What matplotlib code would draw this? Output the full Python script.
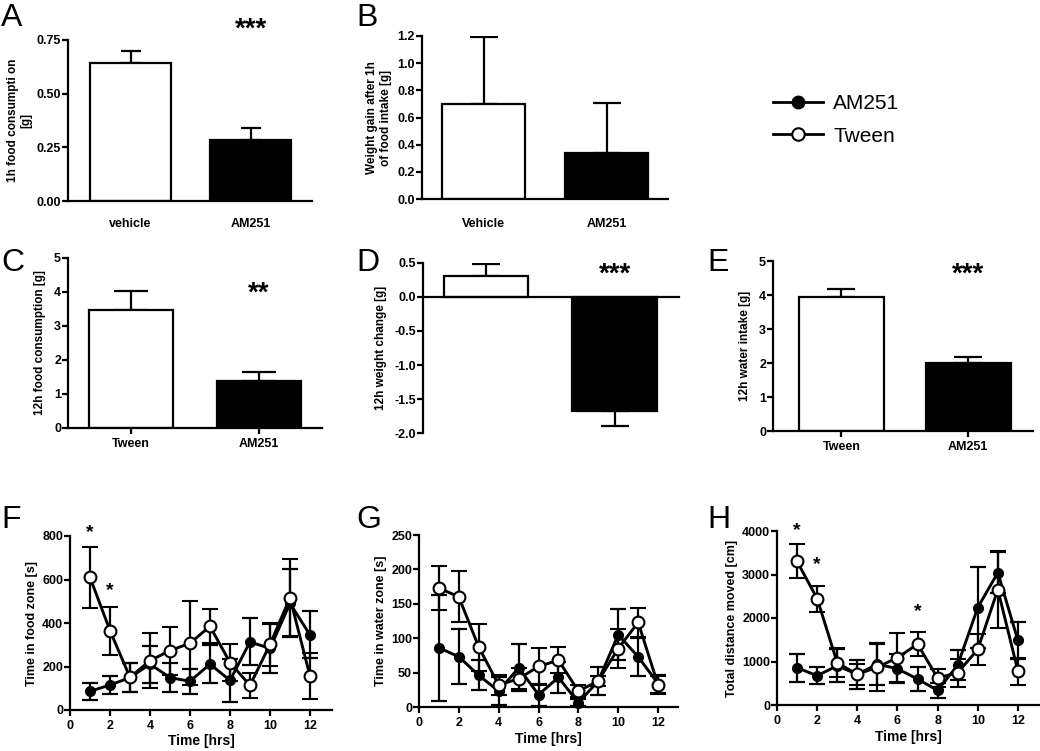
import matplotlib
matplotlib.use("Agg")
import matplotlib.pyplot as plt
from matplotlib.lines import Line2D
import numpy as np

plt.rcParams['font.family'] = ['Liberation Sans', 'DejaVu Sans']
plt.rcParams['font.weight'] = 'bold'
plt.rcParams['axes.labelweight'] = 'bold'
plt.rcParams['axes.unicode_minus'] = False

# ---------------- data ----------------
a_labels = ["vehicle", "AM251"]
a_vals = [0.645, 0.285]
a_err = [0.055, 0.053]

b_labels = ["Vehicle", "AM251"]
b_vals = [0.70, 0.34]
b_err = [0.49, 0.37]

c_labels = ["Tween", "AM251"]
c_vals = [3.46, 1.37]
c_err = [0.56, 0.27]

d_vals = [0.31, -1.67]
d_err = [0.17, 0.22]

e_labels = ["Tween", "AM251"]
e_vals = [3.93, 2.00]
e_err = [0.26, 0.17]

hours = list(range(1, 13))
f_tween = [610, 365, 150, 227, 273, 307, 385, 218, 113, 302, 516, 156]
f_tween_sem = [140, 110, 65, 125, 110, 193, 78, 85, 56, 100, 177, 105]
f_am = [86, 115, 149, 211, 149, 132, 211, 136, 313, 283, 490, 345]
f_am_sem = [40, 41, 65, 85, 67, 57, 88, 98, 108, 114, 156, 108]

g_tween = [173, 160, 87, 32, 41, 59, 68, 23, 38, 85, 123, 32]
g_tween_sem = [32, 37, 34, 15, 15, 27, 19, 9, 7, 28, 21, 13]
g_am = [86, 73, 46, 23, 57, 18, 43, 6, 38, 105, 73, 34]
g_am_sem = [77, 40, 22, 20, 34, 16, 23, 5, 20, 37, 28, 13]

h_tween = [3300, 2447, 971, 704, 872, 1086, 1400, 620, 742, 1277, 2654, 780]
h_tween_sem = [390, 300, 330, 250, 540, 560, 280, 200, 320, 350, 880, 310]
h_am = [857, 673, 903, 704, 940, 834, 597, 336, 918, 2241, 3044, 1484]
h_am_sem = [320, 195, 380, 340, 480, 330, 280, 180, 350, 920, 470, 420]

f_stars = [(1, 815), (2, 550)]
h_stars = [(1, 4000), (2, 3220), (7, 2140)]

# ---------------- layout ----------------
W, H = 1040, 751
fig = plt.figure(figsize=(W / 100, H / 100), dpi=100)


def add_ax(x0, y0, x1, y1):
    return fig.add_axes([x0 / W, 1 - y1 / H, (x1 - x0) / W, (y1 - y0) / H])


LW = 1.6
TICKFS = 9


def style(ax, xticks=True):
    for s in ['top', 'right']:
        ax.spines[s].set_visible(False)
    for s in ['left', 'bottom']:
        ax.spines[s].set_linewidth(LW)
    ax.tick_params(axis='y', direction='out', length=4, width=LW, labelsize=TICKFS, pad=1)
    ax.tick_params(axis='x', direction='out', length=4 if xticks else 0, width=LW,
                   labelsize=TICKFS, pad=3)


def bar_panel(ax, vals, errs, width, capsize, labels=None):
    x = np.arange(len(vals))
    colors = ['white', 'black']
    ax.bar(x, vals, width=width, color=colors, edgecolor='black', linewidth=LW, zorder=2)
    lower = [e if v < 0 else 0 for v, e in zip(vals, errs)]
    upper = [e if v >= 0 else 0 for v, e in zip(vals, errs)]
    ax.errorbar(x, vals, yerr=[lower, upper], fmt='none', ecolor='black',
                elinewidth=LW, capsize=capsize, capthick=LW, zorder=1)
    ax.set_xticks(x)
    if labels is not None:
        ax.set_xticklabels(labels)
    else:
        ax.set_xticklabels([])


def stars(ax, x, y, s, fs=20):
    ax.text(x, y, s, ha='center', va='center', fontsize=fs, fontweight='bold',
            clip_on=False, transform=ax.transData)


YLFS = 8.5

# Panel A
axA = add_ax(68, 40, 312, 201)
bar_panel(axA, a_vals, a_err, 0.675, 7, a_labels)
axA.set_xlim(-0.52, 1.51)
axA.set_ylim(0, 0.75)
axA.set_yticks([0, 0.25, 0.5, 0.75])
axA.set_yticklabels(["0.00", "0.25", "0.50", "0.75"])
axA.set_ylabel("1h food consumpti on\n[g]", fontsize=YLFS, labelpad=3)
style(axA, xticks=False)
axA.tick_params(axis='x', pad=12)
stars(axA, 1, 0.80, "***")

# Panel B
axB = add_ax(422, 36, 668, 199)
bar_panel(axB, b_vals, b_err, 0.667, 10, b_labels)
axB.set_xlim(-0.50, 1.50)
axB.set_ylim(0, 1.2)
axB.set_yticks(np.arange(0, 1.21, 0.2))
axB.set_yticklabels([f"{v:.1f}" for v in np.arange(0, 1.21, 0.2)])
axB.set_ylabel("Weight gain after 1h\nof food intake [g]", fontsize=YLFS, labelpad=4)
style(axB, xticks=False)
axB.tick_params(axis='x', pad=14)

# Panel C
axC = add_ax(68, 258, 322, 428)
bar_panel(axC, c_vals, c_err, 0.66, 12, c_labels)
axC.set_xlim(-0.49, 1.49)
axC.set_ylim(0, 5)
axC.set_yticks(range(0, 6))
axC.set_ylabel("12h food consumption [g]", fontsize=YLFS, labelpad=6)
style(axC)
stars(axC, 1, 3.95, "**")

# Panel D
axD = add_ax(423, 263, 679, 433)
bar_panel(axD, d_vals, d_err, 0.66, 10, None)
axD.set_xlim(-0.49, 1.50)
axD.set_ylim(-2.0, 0.5)
axD.set_yticks([0.5, 0.0, -0.5, -1.0, -1.5, -2.0])
axD.set_yticklabels(["0.5", "0.0", "-0.5", "-1.0", "-1.5", "-2.0"])
axD.spines['bottom'].set_position(('data', 0))
axD.set_ylabel("12h weight change [g]", fontsize=YLFS, labelpad=5)
style(axD, xticks=False)
stars(axD, 1, 0.33, "***")

# Panel E
axE = add_ax(773, 261, 1033, 431)
bar_panel(axE, e_vals, e_err, 0.67, 10, e_labels)
axE.set_xlim(-0.54, 1.51)
axE.set_ylim(0, 5)
axE.set_yticks(range(0, 6))
axE.set_ylabel("12h water intake [g]", fontsize=YLFS, labelpad=6)
style(axE)
stars(axE, 1, 4.6, "***")


def line_panel(ax, tw, tw_sem, am, am_sem, ylim, yticks, ylabel, xlim):
    ax.errorbar(hours, am, yerr=am_sem, color='black', lw=LW + 0.5, marker='o',
                markersize=7, markerfacecolor='black', markeredgecolor='black',
                ecolor='black', elinewidth=LW, capsize=5.5, capthick=LW, clip_on=False, zorder=2)
    ax.errorbar(hours, tw, yerr=tw_sem, color='black', lw=LW + 0.5, marker='o',
                markersize=8.5, markerfacecolor='white', markeredgecolor='black',
                markeredgewidth=1.5, ecolor='black', elinewidth=LW, capsize=5.5,
                capthick=LW, clip_on=False, zorder=3)
    ax.set_xlim(*xlim)
    ax.set_ylim(*ylim)
    ax.set_xticks(range(0, 13, 2))
    ax.set_yticks(yticks)
    ax.set_xlabel("Time [hrs]", fontsize=10, labelpad=2)
    ax.set_ylabel(ylabel, fontsize=YLFS + 0.5, labelpad=3)
    style(ax)


axF = add_ax(70, 536, 332, 710)
line_panel(axF, f_tween, f_tween_sem, f_am, f_am_sem, (0, 800), range(0, 801, 200),
           "Time in food zone [s]", (0, 13.1))
for x, y in f_stars:
    stars(axF, x, y, "*", fs=14)

axG = add_ax(419, 535, 678, 707)
line_panel(axG, g_tween, g_tween_sem, g_am, g_am_sem, (0, 250), range(0, 251, 50),
           "Time in water zone [s]", (0, 13.0))

axH = add_ax(777, 531, 1040, 705)
line_panel(axH, h_tween, h_tween_sem, h_am, h_am_sem, (0, 4000), range(0, 4001, 1000),
           "Total distance moved [cm]", (0, 13.1))
for x, y in h_stars:
    stars(axH, x, y, "*", fs=14)

# Panel letters
letters = [("A", 1, 3), ("B", 356, 3), ("C", 1, 248), ("D", 356, 248), ("E", 707, 248),
           ("F", 1, 505), ("G", 356, 505), ("H", 707, 505)]
for s, px, py in letters:
    fig.text(px / W, 1 - py / H, s, fontsize=23, fontweight='normal', ha='left', va='top')

# Legend
handles = [Line2D([], [], color='black', lw=LW + 0.4, marker='o', markersize=9,
                  markerfacecolor='black', markeredgecolor='black'),
           Line2D([], [], color='black', lw=LW + 0.4, marker='o', markersize=9,
                  markerfacecolor='white', markeredgecolor='black', markeredgewidth=1.5)]
fig.legend(handles, ["AM251", "Tween"], loc='upper left', frameon=False,
           bbox_to_anchor=(773 / W, 1 - 94 / H), handlelength=2.4,
           handletextpad=0.5, labelspacing=0.65, borderaxespad=0, borderpad=0,
           prop={'size': 15, 'weight': 'normal'})

fig.savefig("out.png", dpi=100)
